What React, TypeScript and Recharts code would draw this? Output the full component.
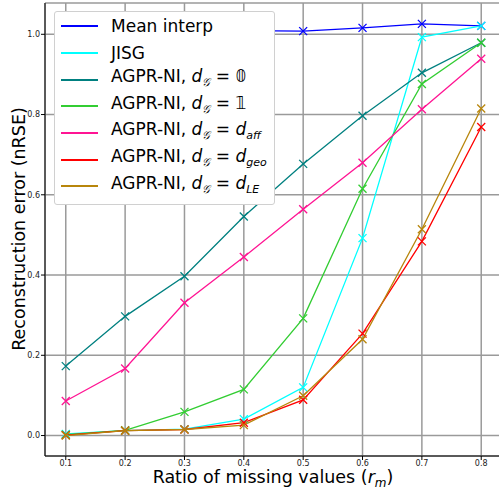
import { LineChart, Line, XAxis, YAxis, CartesianGrid } from 'recharts';

const ratios = [0.1, 0.2, 0.3, 0.4, 0.5, 0.6, 0.7, 0.8];
const meanInterp = [1.01, 1.01, 1.01, 1.009, 1.008, 1.016, 1.026, 1.021];
const jisg = [0.004, 0.012, 0.016, 0.041, 0.12, 0.492, 0.993, 1.021];
const agprZero = [0.173, 0.297, 0.397, 0.546, 0.677, 0.797, 0.904, 0.979];
const agprOne = [0.002, 0.013, 0.059, 0.115, 0.292, 0.615, 0.876, 0.979];
const agprAff = [0.086, 0.167, 0.331, 0.445, 0.564, 0.68, 0.813, 0.939];
const agprGeo = [0.001, 0.012, 0.015, 0.032, 0.089, 0.254, 0.484, 0.769];
const agprLE = [0.0, 0.012, 0.015, 0.026, 0.099, 0.24, 0.514, 0.815];

const xTicks = [0.1, 0.2, 0.3, 0.4, 0.5, 0.6, 0.7, 0.8];
const yTicks = [0, 0.2, 0.4, 0.6, 0.8, 1.0];

const FONT = '"DejaVu Sans", sans-serif';

type Series = { key: string; color: string; values: number[]; sub?: string; rhs?: string };

const series: Series[] = [
  { key: 'Mean interp', color: '#0000ff', values: meanInterp },
  { key: 'JISG', color: '#00ffff', values: jisg },
  { key: 'zero', color: '#008080', values: agprZero, rhs: '𝟘' },
  { key: 'one', color: '#32cd32', values: agprOne, rhs: '𝟙' },
  { key: 'aff', color: '#ff1493', values: agprAff, sub: 'aff' },
  { key: 'geo', color: '#ff0000', values: agprGeo, sub: 'geo' },
  { key: 'LE', color: '#b8860b', values: agprLE, sub: 'LE' },
];

const data = ratios.map((r, i) => {
  const row: Record<string, number> = { r };
  series.forEach((s) => {
    row[s.key] = s.values[i];
  });
  return row;
});

// matplotlib-style 'x' marker
const cross = (color: string) => (props: any) => {
  const { cx, cy, index } = props;
  if (cx == null || cy == null) return <g key={index} />;
  const s = 4;
  return (
    <path
      key={index}
      d={`M${cx - s},${cy - s}L${cx + s},${cy + s}M${cx - s},${cy + s}L${cx + s},${cy - s}`}
      stroke={color}
      strokeWidth={1.3}
      fill="none"
    />
  );
};

const LegendLabel = ({ s }: { s: Series }) => {
  if (!s.sub && !s.rhs) return <span>{s.key}</span>;
  return (
    <span>
      AGPR-NI, <i>d</i>
      <sub style={{ fontSize: 11 }}>
        <i>𝒢</i>
      </sub>
      {' = '}
      {s.rhs ? (
        s.rhs
      ) : (
        <i>
          d<sub style={{ fontSize: 11 }}>{s.sub}</sub>
        </i>
      )}
    </span>
  );
};

const LegendBox = () => (
  <div
    style={{
      position: 'absolute',
      left: 54,
      top: 11,
      width: 221,
      boxSizing: 'border-box',
      background: '#fff',
      border: '1px solid #d0d0d0',
      borderRadius: 3,
      padding: '1px 0 0 0',
      height: 194,
      fontFamily: FONT,
      fontSize: 17,
      color: '#000',
    }}
  >
    {series.map((s) => (
      <div key={s.key} style={{ display: 'flex', alignItems: 'center', height: 26.7 }}>
        <div style={{ width: 37, height: 2, background: s.color, marginLeft: 6, marginRight: 13 }} />
        <div style={{ whiteSpace: 'nowrap', lineHeight: '20px' }}>
          <LegendLabel s={s} />
        </div>
      </div>
    ))}
  </div>
);

const YLabel = () => (
  <text
    x={0}
    y={0}
    transform="translate(25,229) rotate(-90)"
    textAnchor="middle"
    fontFamily={FONT}
    fontSize={17.5}
    fill="#000"
  >
    Reconstruction error (nRSE)
  </text>
);

const XLabel = () => (
  <text x={273} y={483} textAnchor="middle" fontFamily={FONT} fontSize={17.5} fill="#000">
    Ratio of missing values (
    <tspan fontStyle="italic">r</tspan>
    <tspan fontStyle="italic" fontSize={12} dy={4}>
      m
    </tspan>
    <tspan dy={-4}>)</tspan>
  </text>
);

export default function App() {
  return (
    <div style={{ position: 'absolute', left: 0, top: 0, width: 499, height: 495, overflow: 'hidden', background: '#fff' }}>
      <LineChart width={503} height={495} data={data} margin={{ top: 3, right: 1, bottom: 0, left: 0 }}>
        <CartesianGrid stroke="#9a9a9a" strokeWidth={1.5} />
        <XAxis
          dataKey="r"
          type="number"
          domain={[0.065, 0.835]}
          ticks={xTicks}
          tickFormatter={(v: number) => v.toFixed(1)}
          height={39}
          stroke="#000"
          tickSize={4}
          tickMargin={0.5}
          tick={{ fontSize: 8, fontFamily: FONT, fill: '#222' }}
          allowDataOverflow
        />
        <XAxis xAxisId="top" orientation="top" dataKey="r" type="number" domain={[0.065, 0.835]} height={0} tick={false} tickLine={false} stroke="#000" />
        <YAxis
          type="number"
          domain={[-0.051, 1.078]}
          ticks={yTicks}
          tickFormatter={(v: number) => v.toFixed(1)}
          width={45}
          stroke="#000"
          tickSize={4}
          tickMargin={1}
          tick={{ fontSize: 8, fontFamily: FONT, fill: '#222' }}
          allowDataOverflow
        />
        {series.map((s) => (
          <Line
            key={s.key}
            dataKey={s.key}
            stroke={s.color}
            strokeWidth={1.3}
            dot={cross(s.color)}
            activeDot={false}
            isAnimationActive={false}
          />
        ))}
        <YLabel />
        <XLabel />
      </LineChart>
      <LegendBox />
    </div>
  );
}
